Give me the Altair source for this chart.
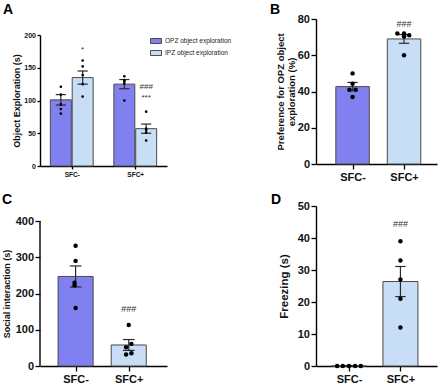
import altair as alt
import pandas as pd

FONT = "Liberation Sans"
OPZ_FILL = "#8080F0"
IPZ_FILL = "#C8DDF6"
EDGE = "#4a4a4a"
INK = "#111111"

groups = ["SFC-", "SFC+"]

# ---- Panel A: object exploration by zone ----
a_types = ["OPZ object exploration", "IPZ object exploration"]
a_group = ["SFC-", "SFC-", "SFC+", "SFC+"]
a_type = ["OPZ object exploration", "IPZ object exploration",
          "OPZ object exploration", "IPZ object exploration"]
a_mean = [101, 135, 125, 57]
a_sem = [8, 10, 7, 7]
a_points = [[121, 109, 94, 87, 80],
            [161, 152, 139, 125, 106],
            [137, 131, 129, 126, 100],
            [83, 57, 55, 51, 39]]
a_note_text = ["*", "###", "***"]
a_note_bar = [1, 3, 3]
a_note_y = [177, 121, 104]

# ---- Panel B: preference for OPZ object ----
b_mean = [42.7, 69.0]
b_sem = [2.3, 2.4]
b_points = [[50, 44.3, 41, 41, 37], [72, 72, 71, 70.4, 60]]
b_jitter = [[0, 0, -0.06, 0.06, 0], [-0.13, 0, 0.1, 0, 0]]
b_note = "###"
b_note_y = 77

# ---- Panel C: social interaction ----
c_mean = [247, 58]
c_sem = [29, 15]
c_points = [[332, 290, 230, 222, 160], [113, 61, 52, 35, 32]]
c_jitter = [[0, 0, -0.02, -0.02, 0], [0, 0.05, -0.05, 0.05, -0.05]]
c_note = "###"
c_note_y = 158
c_ticks = [0, 100, 200, 300, 400]

# ---- Panel D: freezing ----
d_mean = [0, 26.4]
d_sem = [0, 4.7]
d_points = [[0, 0, 0, 0, 0], [39, 33, 27, 21, 12]]
d_jitter = [[-0.23, -0.12, 0, 0.12, 0.23], [0, 0, 0, 0, 0]]
d_note = "###"
d_note_y = 44.3

group_fill = [OPZ_FILL, IPZ_FILL]


def x_axis(size, tick):
    return alt.Axis(
        values=[1, 2], labelExpr="datum.value == 1 ? 'SFC-' : 'SFC+'",
        title=None, grid=False, labelFont=FONT, labelFontSize=size,
        labelFontWeight="bold", labelColor=INK, tickSize=tick,
        labelPadding=2, domainColor="black", tickColor="black",
        domainWidth=1.4, tickWidth=1.3, labelAngle=0,
        labelOverlap=False, labelFlush=False,
    )


def y_axis(title, lsize, tsize, tick, title_x, title_y, count=None,
           values=None, show_domain=True):
    extra = {}
    if count is not None:
        extra["tickCount"] = count
    if values is not None:
        extra["values"] = values
        extra["tickCount"] = 20
    return alt.Axis(
        title=title, grid=False, labelFont=FONT,
        labelFontSize=lsize, labelFontWeight="bold", labelColor=INK,
        titleFont=FONT, titleFontSize=tsize, titleFontWeight="bold",
        titleColor=INK, tickSize=tick, labelPadding=1.5,
        domain=show_domain, domainColor="black", tickColor="black",
        domainWidth=1.4, tickWidth=1.3, titleAngle=270, titleAlign="center",
        titleBaseline="middle", titleX=title_x, titleY=title_y,
        titleLineHeight=11, labelOverlap=False, labelFlush=False,
        labelBound=False, **extra,
    )


def panel(bars, pts, notes, letter, letter_xy, xs, ys, xax, yax,
          dot_size, note_size, cap, width, height, legend=None,
          axis_top=None):
    if legend is not None:
        fill = alt.Color("type:N", scale=alt.Scale(domain=a_types,
                         range=[OPZ_FILL, IPZ_FILL]), legend=legend)
    else:
        fill = alt.Color("fill:N", scale=None)
    bar_layer = alt.Chart(bars).mark_bar(stroke=EDGE, strokeWidth=1).encode(
        x=alt.X("x0:Q", scale=xs, axis=xax), x2="x1:Q",
        y=alt.Y("mean:Q", scale=ys, axis=yax), y2=alt.datum(0),
        fill=fill,
    )
    err = alt.Chart(bars).mark_rule(color="#2a2a2a", strokeWidth=1.2).encode(
        x=alt.X("pos:Q", scale=xs, axis=xax),
        y=alt.Y("lo:Q", scale=ys, axis=yax), y2="hi:Q",
    )
    caps = alt.Chart(bars).transform_fold(["lo", "hi"], as_=["end", "yv"]).transform_calculate(
        c0=f"datum.pos - {cap}", c1=f"datum.pos + {cap}"
    ).mark_rule(color="#2a2a2a", strokeWidth=1.2).encode(
        x=alt.X("c0:Q", scale=xs, axis=xax), x2="c1:Q",
        y=alt.Y("yv:Q", scale=ys, axis=yax),
    )
    dots = alt.Chart(pts).mark_circle(color="black", opacity=1, size=dot_size).encode(
        x=alt.X("xp:Q", scale=xs, axis=xax),
        y=alt.Y("v:Q", scale=ys, axis=yax),
    )
    note_layer = alt.Chart(notes).mark_text(
        font=FONT, fontSize=note_size, color="#333333", baseline="middle"
    ).encode(
        x=alt.X("pos:Q", scale=xs, axis=xax),
        y=alt.Y("y:Q", scale=ys, axis=yax),
        text="t:N",
    )
    tag = alt.Chart(pd.DataFrame({"t": [letter]})).mark_text(
        font=FONT, fontSize=14, fontWeight="bold", color="black",
        align="left", baseline="top"
    ).encode(text="t:N", x=alt.value(letter_xy[0]), y=alt.value(letter_xy[1]))
    layers = [bar_layer, err, caps, dots, note_layer, tag]
    if axis_top is not None:
        # y axis line drawn from 0 up to the last tick value
        spine = alt.Chart(pd.DataFrame({"lo": [0], "hi": [axis_top]})).mark_rule(
            color="black", strokeWidth=1.4
        ).encode(
            x=alt.value(0),
            y=alt.Y("lo:Q", scale=ys, axis=yax), y2="hi:Q",
        )
        layers.append(spine)
    return alt.layer(*layers).properties(width=width, height=height)


def two_group_tables(mean, sem, points, jitter, half, note, note_y):
    bars = pd.DataFrame({
        "group": groups, "pos": [1, 2], "mean": mean, "sem": sem,
        "fill": group_fill,
    })
    bars["x0"] = bars["pos"] - half
    bars["x1"] = bars["pos"] + half
    bars["lo"] = bars["mean"] - bars["sem"]
    bars["hi"] = bars["mean"] + bars["sem"]
    rows = []
    for gi, (vals, jit) in enumerate(zip(points, jitter)):
        for v, j in zip(vals, jit):
            rows.append({"xp": gi + 1 + j, "v": v})
    pts = pd.DataFrame(rows)
    notes = pd.DataFrame({"t": [note], "pos": [2], "y": [note_y]})
    return bars, pts, notes


# Panel A tables
shift = 0.172
a_pos = [1 - shift, 1 + shift, 2 - shift, 2 + shift]
a_bars = pd.DataFrame({"group": a_group, "type": a_type, "pos": a_pos,
                       "mean": a_mean, "sem": a_sem})
a_bars["x0"] = a_bars["pos"] - 0.165
a_bars["x1"] = a_bars["pos"] + 0.165
a_bars["lo"] = a_bars["mean"] - a_bars["sem"]
a_bars["hi"] = a_bars["mean"] + a_bars["sem"]
a_pts = pd.DataFrame([{"xp": a_pos[i], "v": v}
                      for i, vals in enumerate(a_points) for v in vals])
a_notes = pd.DataFrame({"t": a_note_text,
                        "pos": [a_pos[i] for i in a_note_bar],
                        "y": a_note_y})

legend_a = alt.Legend(
    title=None, orient="none", legendX=110, legendY=16,
    labelFont=FONT, labelFontSize=6.5, labelColor="#222222",
    symbolType="M-1,-0.45H1V0.45H-1Z", symbolSize=121,
    symbolStrokeColor="#333333", symbolStrokeWidth=1, symbolOpacity=1,
    rowPadding=1, labelOffset=3, padding=0,
)

chart_a = panel(
    a_bars, a_pts, a_notes, "A", (-37, -16),
    alt.Scale(domain=[0.5, 2.5], nice=False, zero=False),
    alt.Scale(domain=[0, 200], range=[147, 16], nice=False),
    x_axis(6.5, 3),
    y_axis("Object Exploration (s)", 7, 9, 3, -24, 81.5, count=4),
    7, 8, 0.08, 127, 147, legend=legend_a,
)

b_bars, b_pts, b_notes = two_group_tables(b_mean, b_sem, b_points, b_jitter, 0.325, b_note, b_note_y)
chart_b = panel(
    b_bars, b_pts, b_notes, "B", (-46, -16),
    alt.Scale(domain=[0.29, 2.64], nice=False, zero=False),
    alt.Scale(domain=[0, 80], range=[145, 0], nice=False),
    x_axis(11, 5),
    y_axis(["Preference for OPZ object", "exploration (%)"],
           11, 9.5, 5, -36, 72.5, count=4),
    20, 9, 0.1, 121, 145,
)

# Panel C: 400 sits 15 px below the top of a 160 px panel, so the scale
# reaches a little past it and the axis line stops at the last tick.
c_bars, c_pts, c_notes = two_group_tables(c_mean, c_sem, c_points, c_jitter, 0.33, c_note, c_note_y)
c_top = c_ticks[-1] * 160 / 145
chart_c = panel(
    c_bars, c_pts, c_notes, "C", (-38, -13),
    alt.Scale(domain=[0.33, 2.72], nice=False, zero=False),
    alt.Scale(domain=[0, c_top], nice=False),
    x_axis(11, 5),
    y_axis("Social interaction (s)", 11, 9, 5, -34, 87.5,
           values=c_ticks, show_domain=False),
    20, 9, 0.11, 127, 160, axis_top=c_ticks[-1],
)

d_bars, d_pts, d_notes = two_group_tables(d_mean, d_sem, d_points, d_jitter, 0.34, d_note, d_note_y)
chart_d = panel(
    d_bars, d_pts, d_notes, "D", (-45, -13),
    alt.Scale(domain=[0.36, 2.71], nice=False, zero=False),
    alt.Scale(domain=[0, 50], range=[160, 0], nice=False),
    x_axis(11, 5),
    y_axis("Freezing (s)", 11, 11.5, 5, -32, 80, count=5),
    20, 9, 0.1, 121, 160,
)

chart = alt.concat(
    chart_a, chart_b, chart_c, chart_d, columns=2,
    spacing={"row": 40, "column": 149},
).properties(
    bounds="flush",
    background="white",
    autosize=alt.AutoSizeParams(type="none"),
    padding={"left": 40, "top": 19, "right": 400, "bottom": 368},
).configure_view(stroke=None)

chart.save("out.html", embed_options={"renderer": "svg", "actions": False})
